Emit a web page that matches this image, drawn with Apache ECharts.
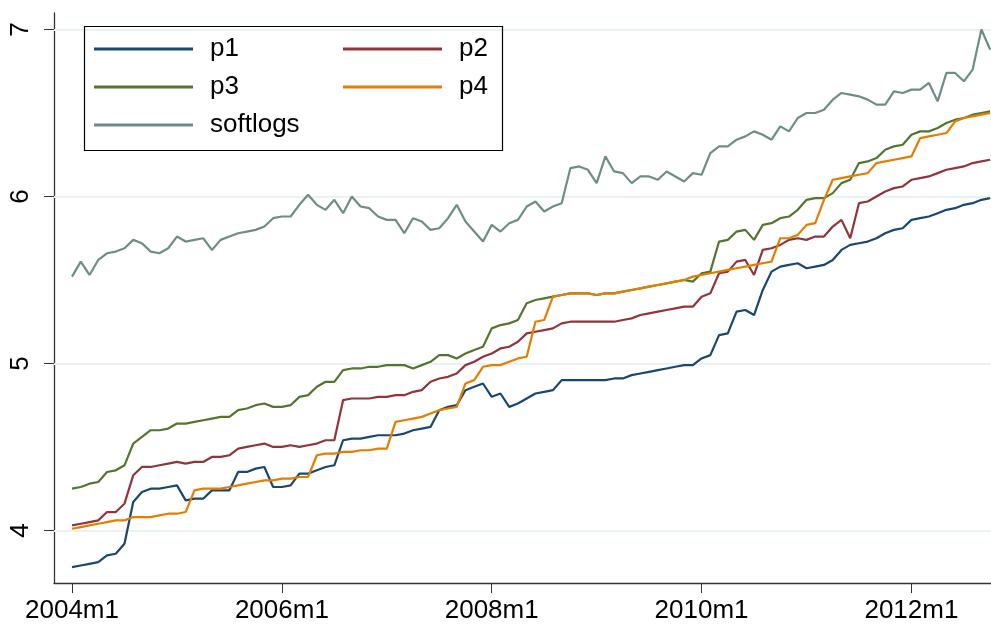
<!DOCTYPE html>
<html><head><meta charset="utf-8">
<script src="https://cdn.jsdelivr.net/npm/echarts@6/dist/echarts.min.js"></script>
<style>html,body{margin:0;padding:0;background:#fff}#c{width:991px;height:625px}</style>
</head><body><div id="c"></div>
<script>
// months 2004m1 .. 2012m10
const months = [];
for (let y = 2004; y <= 2012; y++) for (let m = 1; m <= 12; m++) if (months.length < 106) months.push(y + 'm' + m);
const xTickLabels = ['2004m1','2006m1','2008m1','2010m1','2012m1'];
const yTicks = [4, 5, 6, 7];

const p1 = [3.78,3.79,3.80,3.81,3.85,3.86,3.92,4.17,4.23,4.25,4.25,4.26,4.27,4.18,4.19,4.19,4.24,4.24,4.24,4.35,4.35,4.37,4.38,4.26,4.26,4.27,4.34,4.34,4.36,4.38,4.39,
4.54,4.55,4.55,4.56,4.57,4.57,4.57,4.58,4.60,4.61,4.62,4.72,4.74,4.75,4.84,4.86,4.88,4.80,4.82,4.74,4.76,4.79,4.82,4.83,4.84,4.90,4.90,4.90,4.90,4.90,
4.90,4.91,4.91,4.93,4.94,4.95,4.96,4.97,4.98,4.99,4.99,5.03,5.05,5.17,5.18,5.31,5.32,5.29,5.44,5.55,5.58,5.59,5.60,5.57,5.58,5.59,5.62,5.68,5.71,5.72,5.73,5.75,5.78,5.80,5.81,5.86,5.87,5.88,5.90,5.92,5.93,5.95,5.96,5.98,5.99];
const p2 = [4.03,4.04,4.05,4.06,4.11,4.11,4.16,4.33,4.38,4.38,4.39,4.40,4.41,4.40,4.41,4.41,4.44,4.44,4.45,4.49,4.50,4.51,4.52,4.50,4.50,4.51,4.50,4.51,4.52,4.54,4.54,
4.78,4.79,4.79,4.79,4.80,4.80,4.81,4.81,4.83,4.84,4.89,4.91,4.92,4.94,4.99,5.01,5.04,5.06,5.09,5.10,5.13,5.18,5.19,5.20,5.21,5.24,5.25,5.25,5.25,5.25,
5.25,5.25,5.26,5.27,5.29,5.30,5.31,5.32,5.33,5.34,5.34,5.40,5.42,5.54,5.55,5.61,5.62,5.53,5.68,5.69,5.71,5.74,5.75,5.74,5.76,5.76,5.82,5.86,5.75,5.96,5.97,6.00,6.03,6.05,6.06,6.10,6.11,6.12,6.14,6.16,6.17,6.18,6.20,6.21,6.22];
const p3 = [4.25,4.26,4.28,4.29,4.35,4.36,4.39,4.52,4.56,4.60,4.60,4.61,4.64,4.64,4.65,4.66,4.67,4.68,4.68,4.72,4.73,4.75,4.76,4.74,4.74,4.75,4.80,4.81,4.86,4.89,4.89,
4.96,4.97,4.97,4.98,4.98,4.99,4.99,4.99,4.97,4.99,5.01,5.05,5.05,5.03,5.06,5.08,5.10,5.21,5.23,5.24,5.26,5.36,5.38,5.39,5.40,5.41,5.42,5.42,5.42,5.41,
5.42,5.42,5.43,5.44,5.45,5.46,5.47,5.48,5.49,5.50,5.49,5.54,5.55,5.73,5.74,5.79,5.80,5.74,5.83,5.84,5.87,5.88,5.92,5.98,5.99,5.99,6.02,6.08,6.10,6.20,6.21,6.23,6.28,6.30,6.31,6.37,6.39,6.39,6.41,6.44,6.46,6.47,6.49,6.50,6.51];
const p4 = [4.01,4.02,4.03,4.04,4.05,4.06,4.06,4.08,4.08,4.08,4.09,4.10,4.10,4.11,4.24,4.25,4.25,4.25,4.26,4.27,4.28,4.29,4.30,4.30,4.31,4.31,4.32,4.32,4.45,4.46,4.46,
4.47,4.47,4.48,4.48,4.49,4.49,4.65,4.66,4.67,4.68,4.70,4.72,4.73,4.74,4.88,4.90,4.98,4.99,4.99,5.01,5.03,5.04,5.25,5.26,5.40,5.41,5.42,5.42,5.42,5.41,
5.42,5.42,5.43,5.44,5.45,5.46,5.47,5.48,5.49,5.50,5.52,5.53,5.54,5.55,5.56,5.57,5.58,5.59,5.60,5.61,5.75,5.75,5.77,5.83,5.84,5.98,6.10,6.11,6.12,6.13,6.14,6.20,6.21,6.22,6.23,6.24,6.35,6.36,6.37,6.38,6.45,6.47,6.48,6.49,6.50];
const softlogs = [5.52,5.61,5.53,5.62,5.66,5.67,5.69,5.74,5.72,5.67,5.66,5.69,5.76,5.73,5.74,5.75,5.68,5.74,5.76,5.78,5.79,5.80,5.82,5.87,5.88,5.88,5.95,6.01,5.95,5.92,5.98,
5.90,6.00,5.94,5.93,5.88,5.86,5.86,5.78,5.87,5.85,5.80,5.81,5.87,5.95,5.85,5.79,5.73,5.83,5.79,5.84,5.86,5.94,5.97,5.91,5.94,5.96,6.17,6.18,6.16,6.08,
6.24,6.15,6.14,6.08,6.12,6.12,6.10,6.15,6.12,6.09,6.14,6.13,6.26,6.30,6.30,6.34,6.36,6.39,6.37,6.34,6.42,6.39,6.47,6.50,6.50,6.52,6.58,6.62,6.61,6.60,6.58,6.55,6.55,6.63,6.62,6.64,6.64,6.68,6.57,6.74,6.74,6.69,6.76,7.00,6.88];

const names = ['p1','p2','p3','p4','softlogs'];
const values = [p1, p2, p3, p4, softlogs];
const colors = ['#1a476f','#90353b','#55752f','#e37e00','#6e8e84'];
const FONT = 'Liberation Sans, Arial, sans-serif';
const xTickVals = xTickLabels.map(l => months.indexOf(l));

const chart = echarts.init(document.getElementById('c'), null, {renderer: 'canvas'});
const series = names.map((n, k) => ({
  name: n, type: 'line', showSymbol: false, symbol: 'none', z: 3,
  data: values[k].map((v, i) => [i, v]),
  lineStyle: {color: colors[k], width: 2.2}, itemStyle: {color: colors[k]},
  emphasis: {disabled: true}
}));
series.unshift({
  name: '_grid', type: 'line', data: [], z: 1, silent: true,
  markLine: {silent: true, z: 1, symbol: 'none', label: {show: false},
    lineStyle: {color: '#eaf2f3', width: 2, type: 'solid'},
    data: yTicks.map(v => ({yAxis: v}))}
});
const legendCommon = {
  orient: 'vertical', itemWidth: 99, itemHeight: 3, icon: 'rect', itemGap: 12, padding: 0,
  textStyle: {fontFamily: FONT, fontSize: 26, color: '#000', padding: [0,0,0,12], lineHeight: 26},
  selectedMode: false
};
chart.setOption({
  backgroundColor: '#fff',
  animation: false,
  grid: {left: 54, right: 0, top: 13, bottom: 42},
  xAxis: {type: 'value', min: -2.06, max: 105.1,
    axisLine: {show: true, onZero: false, lineStyle: {color: '#333', width: 1.3}},
    axisTick: {show: true, length: 10, lineStyle: {color: '#333'}, customValues: xTickVals},
    axisLabel: {customValues: xTickVals, formatter: v => months[v], fontFamily: FONT, fontSize: 26, color: '#000', margin: 15},
    splitLine: {show: false}},
  yAxis: {type: 'value', min: 3.685, max: 7.099,
    axisLine: {show: true, onZero: false, lineStyle: {color: '#333', width: 1.3}},
    axisTick: {show: true, length: 10, lineStyle: {color: '#333'}, customValues: yTicks},
    axisLabel: {customValues: yTicks, rotate: 90, fontFamily: FONT, fontSize: 26, color: '#000', margin: 20},
    splitLine: {show: false}},
  legend: [
    Object.assign({}, legendCommon, {left: 94, top: 36, data: ['p1','p3','softlogs']}),
    Object.assign({}, legendCommon, {left: 343, top: 36, data: ['p2','p4']})
  ],
  graphic: [{type: 'rect', left: 82, top: 24, z: 10, silent: true,
    shape: {width: 418, height: 124}, style: {fill: 'none', stroke: '#000', lineWidth: 1.2}}],
  series: series
});
</script></body></html>
